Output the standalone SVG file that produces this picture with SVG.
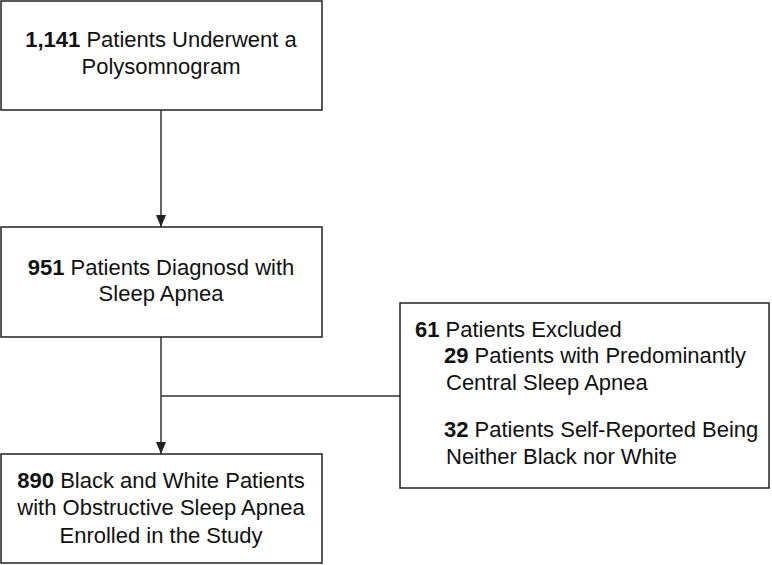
<svg xmlns="http://www.w3.org/2000/svg" width="772" height="565" viewBox="0 0 772 565">
<defs>
<marker id="arr" viewBox="0 0 12 10" refX="12" refY="5" markerWidth="12" markerHeight="10" markerUnits="userSpaceOnUse" orient="auto">
<path d="M0,0 L12,5 L0,10 z" fill="#222"/>
</marker>
</defs>
<style>
.box{fill:#fff;stroke:#222;stroke-width:1.5}
.t{font-family:"Liberation Sans",Arial,sans-serif;font-size:22px;fill:#111}
.c{text-anchor:middle}
.b{font-weight:bold}
.ln{fill:none;stroke:#333;stroke-width:1.5}
</style>
<rect width="772" height="565" fill="#fff"/>
<g id="connectors">
<line class="ln" x1="161" y1="110" x2="161" y2="227" marker-end="url(#arr)"/>
<line class="ln" x1="161" y1="337" x2="161" y2="454" marker-end="url(#arr)"/>
<line class="ln" x1="161" y1="396" x2="400" y2="396"/>
</g>
<g id="n1">
<rect class="box" x="1" y="1" width="321" height="109"/>
<text class="t c" x="161" y="47"><tspan class="b">1,141</tspan> Patients Underwent a</text>
<text class="t c" x="161" y="74">Polysomnogram</text>
</g>
<g id="n2">
<rect class="box" x="1" y="227" width="321" height="110"/>
<text class="t c" x="161" y="275"><tspan class="b">951</tspan> Patients Diagnosd with</text>
<text class="t c" x="161" y="301">Sleep Apnea</text>
</g>
<g id="n3">
<rect class="box" x="1" y="454" width="321" height="109"/>
<text class="t c" x="161" y="488"><tspan class="b">890</tspan> Black and White Patients</text>
<text class="t c" x="161" y="515">with Obstructive Sleep Apnea</text>
<text class="t c" x="161" y="543">Enrolled in the Study</text>
</g>
<g id="n4">
<rect class="box" x="400" y="303" width="369" height="185"/>
<text class="t" x="415" y="337"><tspan class="b">61</tspan> Patients Excluded</text>
<text class="t" x="444" y="363"><tspan class="b">29</tspan> Patients with Predominantly</text>
<text class="t" x="446" y="390">Central Sleep Apnea</text>
<text class="t" x="444" y="437"><tspan class="b">32</tspan> Patients Self-Reported Being</text>
<text class="t" x="446" y="464">Neither Black nor White</text>
</g>
</svg>
